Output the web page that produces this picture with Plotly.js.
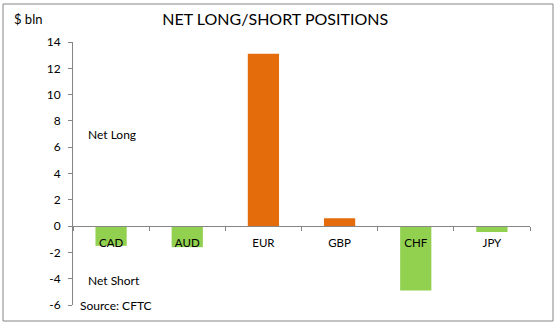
<!DOCTYPE html>
<html>
<head>
<meta charset="utf-8">
<script src="https://cdn.plot.ly/plotly-3.0.1.min.js"></script>
<style>html,body{margin:0;padding:0;background:#fff;}#chart{width:556px;height:325px;}</style>
</head>
<body>
<div id="chart"></div>
<script>
const categories = ["CAD", "AUD", "EUR", "GBP", "CHF", "JPY"];
const netPositions = [-1.5, -1.6, 13.1, 0.6, -4.9, -0.45];
const yTickValues = [-6, -4, -2, 0, 2, 4, 6, 8, 10, 12, 14];

const longColor = "#E46C0A";
const shortColor = "#92D050";
const barColors = netPositions.map(v => v >= 0 ? longColor : shortColor);

const font = "Lato, 'Open Sans', sans-serif";

const trace = {
  type: "bar",
  x: categories,
  y: netPositions,
  marker: { color: barColors, line: { width: 0 } },
  hoverinfo: "x+y"
};

const layout = {
  width: 556,
  height: 325,
  margin: { l: 73, r: 26, t: 42, b: 20, pad: 0 },
  paper_bgcolor: "#ffffff",
  plot_bgcolor: "#ffffff",
  showlegend: false,
  bargap: 0.59,
  font: { family: font, size: 12, color: "#000" },
  title: {
    text: "NET LONG/SHORT POSITIONS",
    font: { family: font, size: 16, color: "#000" },
    x: 0.495, xanchor: "center", xref: "container",
    y: 0.94, yanchor: "middle", yref: "container"
  },
  xaxis: {
    type: "category",
    anchor: "free",
    position: 0.3,
    showline: true,
    linecolor: "#868686",
    linewidth: 1,
    ticks: "outside",
    tickson: "boundaries",
    ticklen: 4,
    tickcolor: "#868686",
    showgrid: false,
    zeroline: false,
    tickfont: { family: font, size: 11.5, color: "#000" },
    ticklabelstandoff: 6,
    fixedrange: true
  },
  yaxis: {
    range: [-6, 14],
    tickvals: yTickValues,
    ticktext: yTickValues.map(String),
    showline: true,
    linecolor: "#868686",
    linewidth: 1,
    ticks: "outside",
    ticklen: 4,
    tickcolor: "#868686",
    showgrid: false,
    zeroline: false,
    tickfont: { family: font, size: 12, color: "#000" },
    ticklabelstandoff: 5,
    fixedrange: true
  },
  shapes: [
    { type: "rect", xref: "paper", yref: "paper",
      x0: -70 / 457, x1: 480 / 457, y0: -16 / 263, y1: 301 / 263,
      line: { color: "#868686", width: 1 }, fillcolor: "rgba(0,0,0,0)", layer: "below" }
  ],
  annotations: [
    { text: "$ bln", xref: "paper", yref: "paper", x: -61 / 457, y: 286 / 263,
      xanchor: "left", yanchor: "middle", showarrow: false,
      font: { family: font, size: 13, color: "#000" } },
    { text: "Net Long", xref: "paper", yref: "paper", x: 13 / 457, y: 171 / 263,
      xanchor: "left", yanchor: "middle", showarrow: false,
      font: { family: font, size: 12, color: "#000" } },
    { text: "Net Short", xref: "paper", yref: "paper", x: 13 / 457, y: 25 / 263,
      xanchor: "left", yanchor: "middle", showarrow: false,
      font: { family: font, size: 12, color: "#000" } },
    { text: "Source: CFTC", xref: "paper", yref: "paper", x: 5 / 457, y: 0,
      xanchor: "left", yanchor: "middle", showarrow: false,
      font: { family: font, size: 12, color: "#000" } }
  ]
};

Plotly.newPlot("chart", [trace], layout, { displayModeBar: false, staticPlot: true });
</script>
</body>
</html>
